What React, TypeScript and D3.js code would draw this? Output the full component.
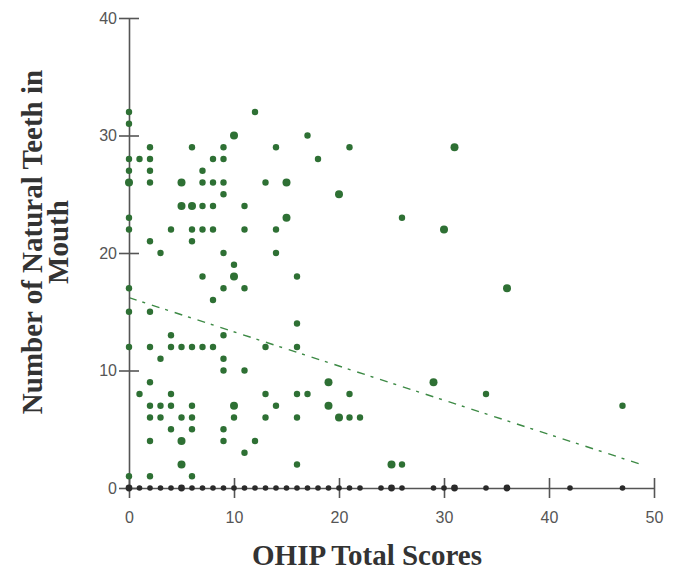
import React, { useRef, useEffect } from 'react';
import * as d3 from 'd3';

// [OHIP score, natural teeth, count]
const greenPoints: [number, number, number][] = [
  [0, 32, 1], [0, 31, 1], [0, 28, 1], [0, 27, 1], [0, 26, 2], [0, 23, 1], [0, 22, 1], [0, 17, 1], [0, 15, 1], [0, 12, 1], [0, 1, 1],
  [1, 28, 1], [1, 8, 1],
  [2, 29, 1], [2, 28, 1], [2, 27, 1], [2, 26, 1], [2, 21, 1], [2, 15, 1], [2, 12, 1], [2, 9, 1], [2, 7, 1], [2, 6, 1], [2, 4, 1], [2, 1, 1],
  [3, 20, 1], [3, 11, 1], [3, 7, 1], [3, 6, 1],
  [4, 22, 1], [4, 13, 1], [4, 12, 1], [4, 8, 1], [4, 7, 1], [4, 5, 1],
  [5, 26, 2], [5, 24, 2], [5, 12, 1], [5, 6, 1], [5, 4, 2], [5, 2, 2],
  [6, 29, 1], [6, 24, 2], [6, 22, 1], [6, 21, 1], [6, 12, 1], [6, 7, 1], [6, 6, 1], [6, 5, 1], [6, 1, 1],
  [7, 27, 1], [7, 26, 1], [7, 24, 1], [7, 22, 1], [7, 18, 1], [7, 12, 1],
  [8, 28, 1], [8, 26, 1], [8, 24, 1], [8, 22, 1], [8, 16, 1], [8, 12, 1],
  [9, 29, 1], [9, 28, 1], [9, 26, 1], [9, 25, 1], [9, 20, 1], [9, 17, 1], [9, 13, 1], [9, 11, 1], [9, 10, 1], [9, 5, 1], [9, 4, 1],
  [10, 30, 2], [10, 19, 1], [10, 18, 2], [10, 7, 2], [10, 6, 1],
  [11, 24, 1], [11, 22, 1], [11, 17, 1], [11, 10, 1], [11, 3, 1],
  [12, 32, 1], [12, 4, 1],
  [13, 26, 1], [13, 12, 1], [13, 8, 1], [13, 6, 1],
  [14, 29, 1], [14, 22, 1], [14, 20, 1], [14, 7, 1],
  [15, 26, 2], [15, 23, 2],
  [16, 18, 1], [16, 14, 1], [16, 12, 1], [16, 8, 1], [16, 6, 1], [16, 2, 1],
  [17, 30, 1], [17, 8, 1],
  [18, 28, 1],
  [19, 9, 2], [19, 7, 2],
  [20, 25, 2], [20, 6, 2],
  [21, 29, 1], [21, 8, 1], [21, 6, 1],
  [22, 6, 1],
  [25, 2, 2],
  [26, 23, 1], [26, 2, 1],
  [29, 9, 2],
  [30, 22, 2],
  [31, 29, 2],
  [34, 8, 1],
  [36, 17, 2],
  [47, 7, 1],
];

// scores of edentulous respondents (0 teeth)
const zeroTeethScores = [0, 1, 2, 3, 4, 5, 6, 7, 8, 9, 10, 11, 12, 13, 14, 15, 16, 17, 18, 19, 20, 21, 22, 24, 25, 26, 29, 30, 31, 34, 36, 42, 47];
const zeroTeethDoubles = [0, 5, 25, 31, 36];

const xTicks = [0, 10, 20, 30, 40, 50];
const yTicks = [0, 10, 20, 30, 40];

const fitIntercept = 16.2;
const fitSlope = -0.291;
const fitRange = [0, 49];

const GREEN = '#2e7034';

export default function App() {
  const svgRef = useRef<SVGSVGElement>(null);

  useEffect(() => {
    const svg = d3.select(svgRef.current);
    svg.selectAll('*').remove();

    const x = d3.scaleLinear().domain([0, 50]).range([129, 654]);
    const y = d3.scaleLinear().domain([0, 40]).range([488, 18]);

    // fit line
    const line = d3.line<number>()
      .x(d => x(d))
      .y(d => y(fitIntercept + fitSlope * d));
    svg.append('path')
      .attr('d', line(fitRange))
      .attr('fill', 'none')
      .attr('stroke', '#3d8a45')
      .attr('stroke-width', 1.4)
      .attr('stroke-dasharray', '8 6 3 7');

    // axes
    const xAxis = svg.append('g')
      .attr('transform', `translate(0, ${y(0)})`)
      .call(d3.axisBottom(x).tickValues(xTicks).tickSize(10).tickSizeOuter(0).tickPadding(14));
    xAxis.selectAll('.tick line').attr('y1', -10);

    const yAxis = svg.append('g')
      .attr('transform', `translate(${x(0)}, 0)`)
      .call(d3.axisLeft(y).tickValues(yTicks).tickSize(10).tickSizeOuter(0).tickPadding(2));
    yAxis.selectAll('.tick line').attr('x1', 10);

    svg.selectAll('.domain, .tick line')
      .attr('stroke', '#555')
      .attr('stroke-width', 1.6);
    svg.selectAll('.tick text')
      .attr('fill', '#555')
      .style('font-family', 'Liberation Sans, Arial, sans-serif')
      .style('font-size', '16px');

    // green points
    svg.append('g').selectAll('circle')
      .data(greenPoints)
      .enter().append('circle')
      .attr('cx', d => x(d[0]))
      .attr('cy', d => y(d[1]))
      .attr('r', d => (d[2] > 1 ? 4 : 3.2))
      .attr('fill', GREEN);

    // points at zero teeth
    svg.append('g').selectAll('circle')
      .data(zeroTeethScores)
      .enter().append('circle')
      .attr('cx', d => x(d))
      .attr('cy', y(0))
      .attr('r', d => (zeroTeethDoubles.includes(d) ? 3.4 : 2.8))
      .attr('fill', '#2a2a2a');

    // titles
    svg.append('text')
      .attr('x', 367)
      .attr('y', 565)
      .attr('text-anchor', 'middle')
      .style('font-family', 'Liberation Serif, Times New Roman, serif')
      .style('font-weight', 'bold')
      .style('font-size', '29px')
      .attr('fill', '#333')
      .text('OHIP Total Scores');

    const yTitle = svg.append('g')
      .attr('transform', 'translate(42, 242) rotate(-90)')
      .style('font-family', 'Liberation Serif, Times New Roman, serif')
      .style('font-weight', 'bold')
      .style('font-size', '29px')
      .attr('fill', '#333');
    yTitle.append('text')
      .attr('text-anchor', 'middle')
      .text('Number of Natural Teeth in');
    yTitle.append('text')
      .attr('y', 26)
      .attr('text-anchor', 'middle')
      .text('Mouth');
  }, []);

  return (
    <svg
      ref={svgRef}
      width={676}
      height={578}
      style={{ position: 'absolute', left: 0, top: 0, background: '#fff' }}
    />
  );
}
